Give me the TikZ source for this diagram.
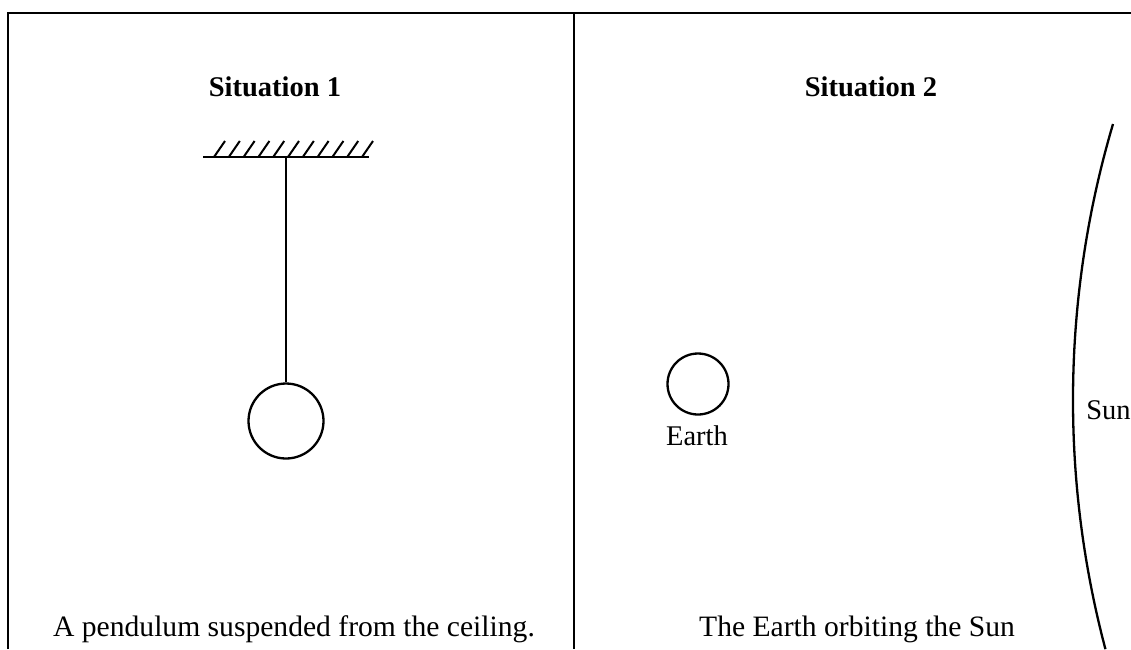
\documentclass[tikz,border=0pt]{standalone}
\usepackage{fontspec}
\setmainfont{Liberation Serif}
\begin{document}
\begin{tikzpicture}[x=1pt,y=-1pt,
  lbl/.style={inner sep=0pt,anchor=base,font=\fontsize{28.5}{32}\selectfont},
  captext/.style={lbl,font=\fontsize{29.6}{33}\selectfont},
  ttl/.style={lbl,font=\fontsize{28.5}{32}\selectfont\bfseries},
  thick line/.style={line width=2.3pt},
  frame line/.style={line width=2.8pt}]
\useasboundingbox (0,0) rectangle (1131,649);
% frame
\draw[frame line] (8,649) -- (8,13) -- (1131,13);
\draw[line width=2.4pt] (574,13) -- (574,649);
% situation 1
\node[ttl] (t1) at (275,96) {Situation 1};
\coordinate (ceilL) at (203,157);
\coordinate (ceilR) at (369,157);
\coordinate (pivot) at (286,157);
\draw[thick line] (ceilL) -- (ceilR);
\foreach \i in {0,...,10}{
  \draw[line width=2pt] (214+14.8*\i,157) -- (225+14.8*\i,141);
}
\node[draw,circle,thick line,minimum size=75pt,inner sep=0pt] (bob) at (286,421) {};
\draw[thick line] (pivot) -- (bob.north);
\node[captext] (c1) at (294,636) {A pendulum suspended from the ceiling.};
% situation 2
\node[ttl] (t2) at (871,96) {Situation 2};
\node[draw,circle,thick line,minimum size=61pt,inner sep=0pt] (earth) at (698,384) {};
\node[lbl] (elab) at (697,445) {Earth};
\coordinate (suntop) at (1113,124);
\draw[thick line] (suntop) arc[start angle=196.5,end angle=165.15,radius=972];
\node[lbl] (sunlab) at (1108.5,419) {Sun};
\node[captext] (c2) at (857,636) {The Earth orbiting the Sun};
\end{tikzpicture}
\end{document}
